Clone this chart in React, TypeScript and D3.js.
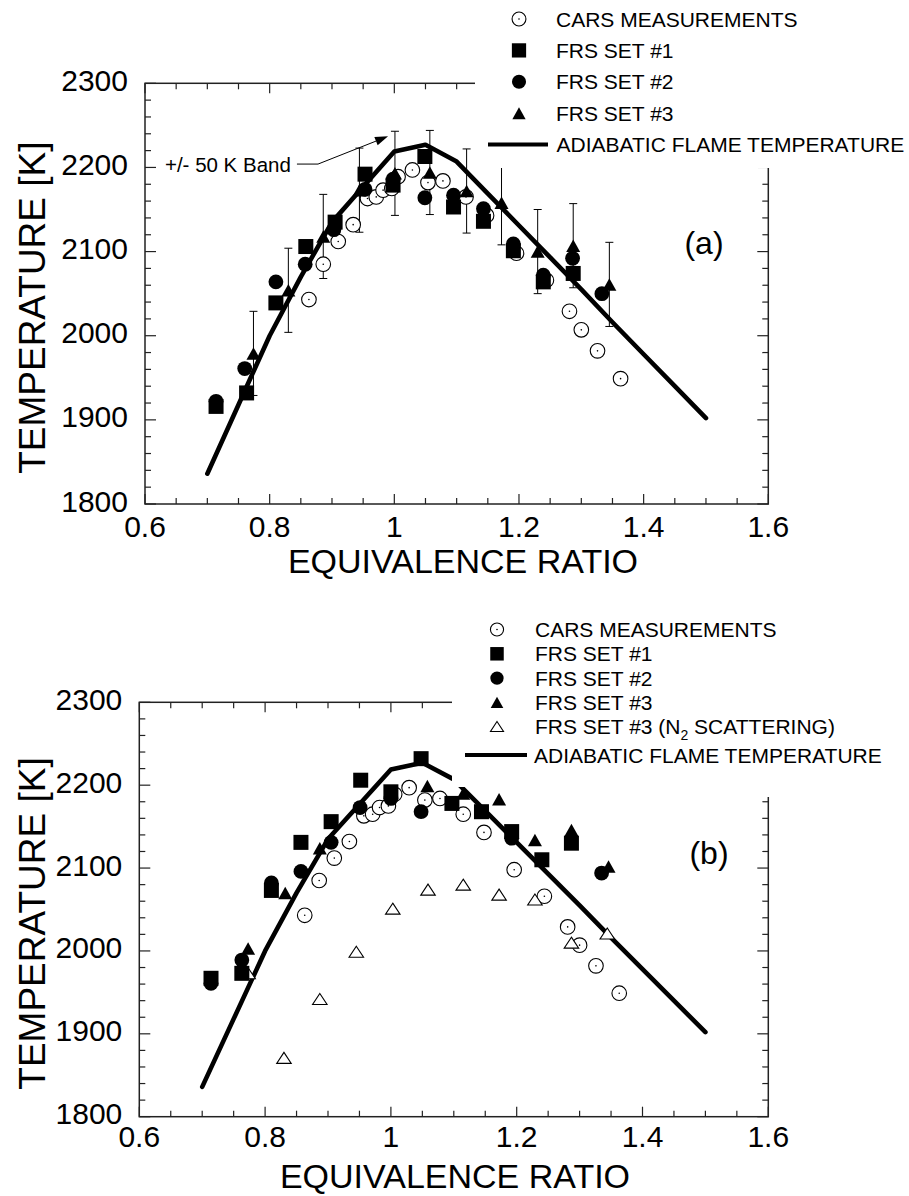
import React from "react";
import * as d3 from "d3";

// ---------- DATA ----------
const ADIABATIC_PHI = [0.7, 0.75, 0.8, 0.85, 0.9, 0.95, 1.0, 1.05, 1.1, 1.15, 1.2, 1.25, 1.3, 1.35, 1.4, 1.45, 1.5];
const ADIABATIC_T = [1836, 1918, 2000, 2070, 2135, 2177, 2219, 2227, 2207, 2169, 2131, 2093, 2055, 2016, 1978, 1940, 1902];

const CARS_PHI = [0.863, 0.886, 0.91, 0.934, 0.957, 0.971, 0.982, 0.996, 1.006, 1.029, 1.054, 1.078, 1.115, 1.148, 1.196, 1.244, 1.281, 1.3, 1.326, 1.363];
const CARS_T = [2043, 2085, 2112, 2132, 2163, 2165, 2173, 2175, 2189, 2197, 2182, 2184, 2165, 2143, 2098, 2066, 2029, 2007, 1982, 1949];

// Panel (a)
const A_SET1_PHI = [0.714, 0.763, 0.81, 0.858, 0.905, 0.953, 0.998, 1.049, 1.095, 1.143, 1.191, 1.239, 1.287];
const A_SET1_T = [1916, 1932, 2039, 2106, 2135, 2192, 2179, 2213, 2153, 2136, 2101, 2064, 2074];
const A_SET2_PHI = [0.714, 0.76, 0.81, 0.857, 0.903, 0.953, 0.998, 1.049, 1.095, 1.143, 1.191, 1.239, 1.286, 1.333];
const A_SET2_T = [1922, 1961, 2064, 2085, 2126, 2174, 2186, 2164, 2167, 2151, 2109, 2072, 2092, 2050];
const A_SET3_PHI = [0.774, 0.83, 0.886, 0.944, 1.001, 1.057, 1.116, 1.172, 1.23, 1.287, 1.345];
const A_SET3_T = [1979, 2054, 2118, 2173, 2193, 2194, 2172, 2158, 2100, 2107, 2061];
const BAND = 50;

// Panel (b)
const B_SET1_PHI = [0.714, 0.763, 0.81, 0.857, 0.905, 0.952, 1.0, 1.048, 1.097, 1.144, 1.192, 1.24, 1.287];
const B_SET1_T = [1967, 1973, 2073, 2131, 2156, 2206, 2192, 2232, 2178, 2168, 2144, 2110, 2130];
const B_SET2_PHI = [0.714, 0.763, 0.81, 0.857, 0.905, 0.951, 1.0, 1.048, 1.192, 1.335];
const B_SET2_T = [1961, 1989, 2082, 2096, 2131, 2173, 2184, 2168, 2136, 2094];
const B_SET3_PHI = [0.773, 0.832, 0.887, 1.058, 1.115, 1.172, 1.229, 1.287, 1.346];
const B_SET3_T = [2003, 2070, 2124, 2199, 2190, 2183, 2134, 2146, 2102];
const B_N2_PHI = [0.773, 0.83, 0.887, 0.945, 1.003, 1.059, 1.115, 1.172, 1.229, 1.287, 1.344];
const B_N2_T = [1973, 1871, 1942, 1999, 2051, 2074, 2080, 2068, 2062, 2010, 2021];

const X_TICKS = [0.6, 0.8, 1, 1.2, 1.4, 1.6];
const Y_TICKS = [1800, 1900, 2000, 2100, 2200, 2300];
const X_DOMAIN = [0.6, 1.6];
const Y_DOMAIN = [1800, 2300];

const LEGEND_A = ["CARS MEASUREMENTS", "FRS SET #1", "FRS SET #2", "FRS SET #3"];
const LEGEND_B = ["CARS MEASUREMENTS", "FRS SET #1", "FRS SET #2", "FRS SET #3"];
const LEGEND_LINE = "ADIABATIC FLAME TEMPERATURE";

// ---------- STYLE ----------
const FONT = "'Liberation Sans', Arial, Helvetica, sans-serif";
const W = 909;
const H = 1196;

const zip = (a: number[], b: number[]) => a.map((v, i) => [v, b[i]] as [number, number]);

type Kind = "ocircle" | "square" | "circle" | "tri" | "otri";

function Marker({ kind, x, y, s = 1 }: { kind: Kind; x: number; y: number; s?: number }) {
  if (kind === "ocircle")
    return (
      <g>
        <circle cx={x} cy={y} r={7.3 * s} fill="#fff" stroke="#000" strokeWidth={1.1} />
        <circle cx={x} cy={y} r={0.8} fill="#000" />
      </g>
    );
  if (kind === "square") {
    const a = 15 * s;
    return <rect x={x - a / 2} y={y - a / 2} width={a} height={a} fill="#000" />;
  }
  if (kind === "circle") return <circle cx={x} cy={y} r={7.4 * s} fill="#000" />;
  if (kind === "tri") {
    const w = 14 * s, h = 12.5 * s;
    return <path d={`M${x},${y - h / 2}L${x + w / 2},${y + h / 2}L${x - w / 2},${y + h / 2}Z`} fill="#000" />;
  }
  const w = 14.5 * s, h = 11 * s;
  return (
    <path
      d={`M${x},${y - h / 2}L${x + w / 2},${y + h / 2}L${x - w / 2},${y + h / 2}Z`}
      fill="#fff"
      stroke="#000"
      strokeWidth={1.1}
    />
  );
}

type Box = { x0: number; x1: number; y0: number; y1: number };

function Frame({ box, xs, ys, labelGap }: { box: Box; xs: any; ys: any; labelGap: number }) {
  const minorX = d3.range(0, 21).map((i) => 0.6 + i * 0.05);
  const minorY = d3.range(0, 26).map((i) => 1800 + i * 20);
  const stroke = "#222";
  const els: any[] = [];
  minorX.forEach((v, i) => {
    const x = xs(v);
    const L = i % 4 === 0 ? 10 : 6;
    els.push(<line key={"xb" + i} x1={x} x2={x} y1={box.y1} y2={box.y1 - L} stroke={stroke} strokeWidth={1.2} />);
    els.push(<line key={"xt" + i} x1={x} x2={x} y1={box.y0} y2={box.y0 + L} stroke={stroke} strokeWidth={1.2} />);
  });
  minorY.forEach((v, i) => {
    const y = ys(v);
    const L = i % 5 === 0 ? 11 : 6;
    els.push(<line key={"yl" + i} x1={box.x0} x2={box.x0 + L} y1={y} y2={y} stroke={stroke} strokeWidth={1.2} />);
    els.push(<line key={"yr" + i} x1={box.x1} x2={box.x1 - L} y1={y} y2={y} stroke={stroke} strokeWidth={1.2} />);
  });
  return (
    <g>
      <rect x={box.x0} y={box.y0} width={box.x1 - box.x0} height={box.y1 - box.y0} fill="none" stroke={stroke} strokeWidth={1.5} />
      {els}
      {X_TICKS.map((v) => (
        <text key={"xl" + v} x={xs(v)} y={box.y1 + labelGap} fontSize={30} textAnchor="middle" fontFamily={FONT} fill="#000">
          {String(v)}
        </text>
      ))}
      {Y_TICKS.map((v) => (
        <text key={"yl" + v} x={box.x0 - 17} y={ys(v) + 7.5} fontSize={30} textAnchor="end" fontFamily={FONT} fill="#000">
          {String(v)}
        </text>
      ))}
    </g>
  );
}

function Panel({
  box,
  sets,
  errSet,
  titleY,
  titleX,
  labelGap,
  tag,
  tagPos,
  masks,
  legend,
}: any) {
  const xs = d3.scaleLinear().domain(X_DOMAIN).range([box.x0, box.x1]);
  const ys = d3.scaleLinear().domain(Y_DOMAIN).range([box.y1, box.y0]);
  const lineGen = d3
    .line<[number, number]>()
    .x((d) => xs(d[0]))
    .y((d) => ys(d[1]));
  const adiabatic = lineGen(zip(ADIABATIC_PHI, ADIABATIC_T)) || "";
  const midY = (box.y0 + box.y1) / 2;
  return (
    <g>
      <Frame box={box} xs={xs} ys={ys} labelGap={labelGap} />
      <text x={titleX} y={titleY} fontSize={34} textAnchor="middle" fontFamily={FONT}>
        EQUIVALENCE RATIO
      </text>
      <text
        transform={`translate(45,${midY + 14}) rotate(-90)`}
        fontSize={37}
        textAnchor="middle"
        fontFamily={FONT}
      >
        TEMPERATURE [K]
      </text>
      <path d={adiabatic} fill="none" stroke="#000" strokeWidth={4.6} strokeLinejoin="round" strokeLinecap="round" />
      {errSet &&
        zip(errSet[0], errSet[1]).map(([p, t], i) => {
          const x = xs(p);
          return (
            <g key={"e" + i} stroke="#000" strokeWidth={1}>
              <line x1={x} x2={x} y1={ys(t - BAND)} y2={ys(t + BAND)} />
              <line x1={x - 4} x2={x + 4} y1={ys(t - BAND)} y2={ys(t - BAND)} />
              <line x1={x - 4} x2={x + 4} y1={ys(t + BAND)} y2={ys(t + BAND)} />
            </g>
          );
        })}
      {sets.map((s: any, si: number) =>
        zip(s.phi, s.t).map(([p, t], i) => <Marker key={si + "-" + i} kind={s.kind} x={xs(p)} y={ys(t)} />)
      )}
      {masks.map((m: any, i: number) => (
        <rect key={"m" + i} x={m[0]} y={m[1]} width={m[2]} height={m[3]} fill="#fff" />
      ))}
      <text x={tagPos[0]} y={tagPos[1]} fontSize={32} textAnchor="middle" fontFamily={FONT}>
        {tag}
      </text>
      {legend}
    </g>
  );
}

export default function App() {
  const boxA: Box = { x0: 145, x1: 768.3, y0: 83.3, y1: 504 };
  const boxB: Box = { x0: 139.3, x1: 768.3, y0: 702.3, y1: 1116.7 };
  const xsA = d3.scaleLinear().domain(X_DOMAIN).range([boxA.x0, boxA.x1]);
  const ysA = d3.scaleLinear().domain(Y_DOMAIN).range([boxA.y1, boxA.y0]);

  const setsA = [
    { kind: "ocircle", phi: CARS_PHI, t: CARS_T },
    { kind: "square", phi: A_SET1_PHI, t: A_SET1_T },
    { kind: "circle", phi: A_SET2_PHI, t: A_SET2_T },
    { kind: "tri", phi: A_SET3_PHI, t: A_SET3_T },
  ];
  const setsB = [
    { kind: "ocircle", phi: CARS_PHI, t: CARS_T },
    { kind: "otri", phi: B_N2_PHI, t: B_N2_T },
    { kind: "square", phi: B_SET1_PHI, t: B_SET1_T },
    { kind: "circle", phi: B_SET2_PHI, t: B_SET2_T },
    { kind: "tri", phi: B_SET3_PHI, t: B_SET3_T },
  ];

  const kindsA: Kind[] = ["ocircle", "square", "circle", "tri"];
  const legendA = (
    <g fontFamily={FONT} fontSize={21}>
      {LEGEND_A.map((lab, i) => {
        const y = 19 + i * 31.4;
        return (
          <g key={lab}>
            <Marker kind={kindsA[i]} x={519} y={y} s={0.95} />
            <text x={556} y={y + 7.5}>{lab}</text>
          </g>
        );
      })}
      <line x1={488} x2={548} y1={144.5} y2={144.5} stroke="#000" strokeWidth={4} />
      <text x={556.5} y={152}>{LEGEND_LINE}</text>
    </g>
  );

  const kindsB: Kind[] = ["ocircle", "square", "circle", "tri", "otri"];
  const legendB = (
    <g fontFamily={FONT} fontSize={21}>
      {LEGEND_B.map((lab, i) => {
        const y = 629.5 + i * 24.3;
        return (
          <g key={lab}>
            <Marker kind={kindsB[i]} x={497} y={y} s={0.9} />
            <text x={535} y={y + 7.5}>{lab}</text>
          </g>
        );
      })}
      <Marker kind="otri" x={497} y={726.5} s={0.9} />
      <text x={535} y={734}>
        FRS SET #3 (N
        <tspan fontSize={14} dy={6}>2</tspan>
        <tspan dy={-6}> SCATTERING)</tspan>
      </text>
      <line x1={465} x2={527} y1={755} y2={755} stroke="#000" strokeWidth={4} />
      <text x={534} y={762.5}>{LEGEND_LINE}</text>
    </g>
  );

  // annotation in panel (a), anchored in data coordinates
  const tx = xsA(0.632), ty = ysA(2204);
  const ex = xsA(0.8776);
  const hx = xsA(0.99), hy = ysA(2237);
  const ang = Math.atan2(hy - ty, hx - ex);
  const hl = 13, hw = 4.5;
  const bx = hx - hl * Math.cos(ang), by = hy - hl * Math.sin(ang);
  const px = -Math.sin(ang), py = Math.cos(ang);

  return (
    <svg width={W} height={H} style={{ display: "block", position: "absolute", left: 0, top: 0 }}>
      <rect width={W} height={H} fill="#fff" />
      <Panel
        box={boxA}
        sets={setsA}
        errSet={[A_SET3_PHI, A_SET3_T]}
        titleX={463}
        titleY={573}
        labelGap={32.5}
        tag="(a)"
        tagPos={[704, 254]}
        masks={[[475, 0, 434, 168]]}
        legend={legendA}
      />
      <g fontFamily={FONT}>
        <text x={tx} y={ty + 7.5} fontSize={20.5}>+/- 50 K Band</text>
        <path d={`M${tx + 132},${ty}L${ex},${ty}L${bx},${by}`} fill="none" stroke="#000" strokeWidth={1} />
        <path
          d={`M${hx},${hy}L${bx + px * hw},${by + py * hw}L${bx - px * hw},${by - py * hw}Z`}
          fill="#000"
        />
      </g>
      <Panel
        box={boxB}
        sets={setsB}
        errSet={null}
        titleX={455}
        titleY={1187.5}
        labelGap={30.5}
        tag="(b)"
        tagPos={[709, 864]}
        masks={[[452, 600, 457, 187], [600, 600, 309, 197]]}
        legend={legendB}
      />
    </svg>
  );
}
